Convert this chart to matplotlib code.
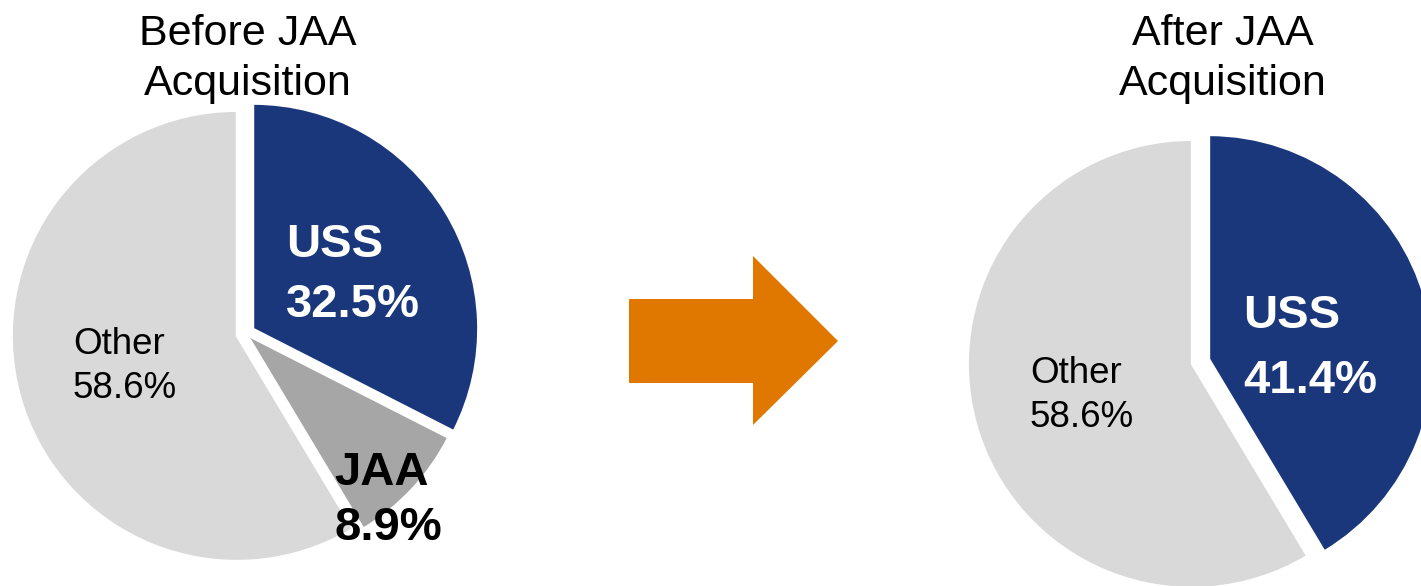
import matplotlib
matplotlib.use("Agg")
import matplotlib.pyplot as plt
from matplotlib.patches import Polygon

plt.rcParams['font.family'] = ['Liberation Sans', 'DejaVu Sans']

# data
before_labels = ["USS", "JAA", "Other"]
before_share = [32.5, 8.9, 58.6]
after_labels = ["USS", "Other"]
after_share = [41.4, 58.6]

navy = "#1B377C"
light = "#D9D9D9"
mid = "#A6A6A6"
orange = "#E07800"

W, H = 1421, 586
fig = plt.figure(figsize=(W / 100, H / 100), dpi=100)
ax = fig.add_axes([0, 0, 1, 1])

def py(y):
    # pixel row -> data y
    return H - y

# before pie (explode is in data units, so scale by radius)
r1 = 225
ax.pie(before_share, colors=[navy, mid, light], startangle=90, counterclock=False,
       explode=[0.04 * r1, 0.013 * r1, 0.04 * r1], radius=r1, center=(245.5, py(333.5)),
       wedgeprops=dict(edgecolor="white", linewidth=1.5))
# after pie
r2 = 224
ax.pie(after_share, colors=[navy, light], startangle=90, counterclock=False,
       explode=[0.04 * r2, 0.04 * r2], radius=r2, center=(1200.5, py(361.5)),
       wedgeprops=dict(edgecolor="white", linewidth=1.5))

ax.set_xlim(0, W)
ax.set_ylim(0, H)
ax.set_aspect("equal")
ax.axis("off")

# arrow
arrow = Polygon([(629, py(299)), (753, py(299)), (753, py(256)), (838, py(341)),
                 (753, py(425)), (753, py(383)), (629, py(383))],
                closed=True, facecolor=orange, edgecolor="none")
ax.add_patch(arrow)

# titles
for cx, first in [(248, "Before JAA"), (1223, "After JAA")]:
    ax.text(cx, py(45), first, fontsize=31, ha="center", va="baseline")
    ax.text(cx, py(95), "Acquisition", fontsize=31, ha="center", va="baseline")

def label(x, y1, y2, name, val, size, weight, color):
    ax.text(x, py(y1), name, fontsize=size, fontweight=weight, color=color,
            ha="left", va="baseline")
    ax.text(x, py(y2), f"{val}%", fontsize=size, fontweight=weight, color=color,
            ha="left", va="baseline")

label(286, 257, 317, before_labels[0], before_share[0], 34, "bold", "white")
label(334, 485, 540, before_labels[1], before_share[1], 34, "bold", "black")
label(73, 354, 398, before_labels[2], before_share[2], 26.5, "normal", "black")

label(1243, 328, 393, after_labels[0], after_share[0], 34, "bold", "white")
label(1030, 383, 427, after_labels[1], after_share[1], 26.5, "normal", "black")

fig.savefig("out.png", dpi=100, facecolor="white")
